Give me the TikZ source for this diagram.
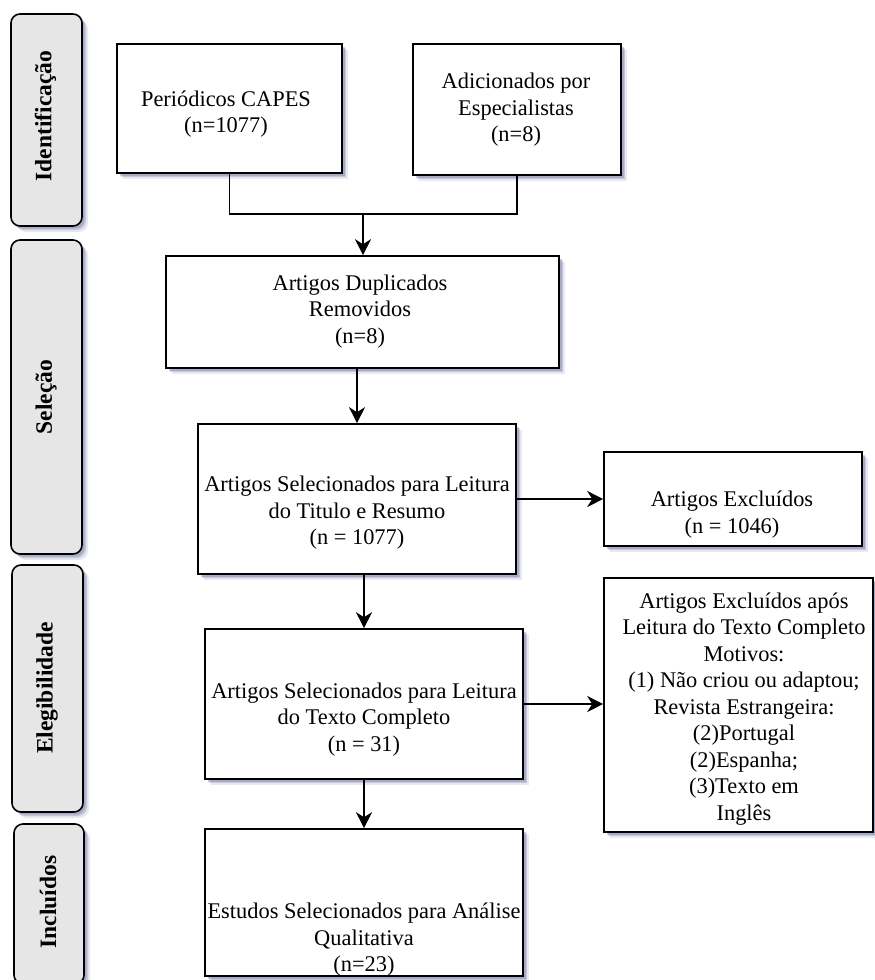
\documentclass[tikz,border=0pt]{standalone}
\usepackage{fontspec}
\setmainfont{Liberation Serif}
\usetikzlibrary{arrows.meta,shadows}
\definecolor{shc}{RGB}{100,105,155}
\definecolor{phasefill}{RGB}{230,230,230}
\begin{document}
\begin{tikzpicture}[x=1pt,y=-1pt,
  shad/.style={general shadow={fill=shc,opacity=0.15,shadow xshift=6pt,shadow yshift=-6pt},
               general shadow={fill=shc,opacity=0.25,shadow xshift=4pt,shadow yshift=-4pt},
               general shadow={fill=shc,opacity=0.3,shadow xshift=2.5pt,shadow yshift=-2.5pt}},
  box/.style={draw=black,line width=1.6pt,fill=white,inner sep=0pt,shad},
  phase/.style={draw=black,line width=1.6pt,fill=phasefill,rounded corners=9pt,inner sep=0pt,shad},
  txt/.style={inner sep=0pt,align=center,font=\fontsize{22.4}{26.5}\selectfont},
  ptxt/.style={inner sep=0pt,rotate=90,font=\fontsize{23.5}{28}\selectfont\bfseries},
  conn/.style={line width=1.6pt,draw=black},
  arr/.style={conn,-{Stealth[length=16pt,width=16pt,inset=5pt]}}]
\useasboundingbox (0,0) rectangle (875,980);
\fill[white] (0,0) rectangle (875,980);
\clip (0,0) rectangle (875,980);
% phase labels
\node[phase,minimum width=71pt,minimum height=212pt] (ph1) at (46.5,120) {};
\node[ptxt] (ph1t) at (45.5,116) {Identificação};
\node[phase,minimum width=71pt,minimum height=314pt] (ph2) at (46.5,397) {};
\node[ptxt] (ph2t) at (46,397) {Seleção};
\node[phase,minimum width=71pt,minimum height=247pt] (ph3) at (47.5,688.5) {};
\node[ptxt] (ph3t) at (47,688) {Elegibilidade};
\node[phase,minimum width=70pt,minimum height=160pt] (ph4) at (49,904) {};
\node[ptxt] (ph4t) at (48,902) {Incluídos};
% boxes
\node[box,minimum width=225pt,minimum height=129pt] (per) at (229.5,108.5) {};
\node[txt] (pert) at (226,114) {Periódicos CAPES\\(n=1077)};
\node[box,minimum width=208pt,minimum height=131pt] (adi) at (517,109.5) {};
\node[txt] (adit) at (516,110) {Adicionados por\\Especialistas\\(n=8)};
\node[box,minimum width=393pt,minimum height=112pt] (dup) at (362.5,312) {};
\node[txt] (dupt) at (360,311.5) {Artigos Duplicados\\Removidos\\(n=8)};
\node[box,minimum width=318pt,minimum height=150pt] (tit) at (357,499) {};
\node[txt] (titt) at (357,513) {Artigos Selecionados para Leitura\\do Titulo e Resumo\\(n = 1077)};
\node[box,minimum width=258pt,minimum height=94pt] (exc) at (733,499) {};
\node[txt] (exct) at (732,514.5) {Artigos Excluídos\\(n = 1046)};
\node[box,minimum width=318pt,minimum height=150pt] (tex) at (364,704) {};
\node[txt] (text) at (364,719.5) {Artigos Selecionados para Leitura\\do Texto Completo\\(n = 31)};
\node[box,minimum width=269pt,minimum height=254pt] (exb) at (738.5,705) {};
\node[txt] (exbt) at (744,709) {Artigos Excluídos após\\Leitura do Texto Completo\\Motivos:\\(1) Não criou ou adaptou;\\Revista Estrangeira:\\(2)Portugal\\(2)Espanha;\\(3)Texto em\\Inglês};
\node[box,minimum width=318pt,minimum height=147pt] (est) at (364,902.5) {};
\node[txt] (estt) at (364,940) {Estudos Selecionados para Análise\\Qualitativa\\(n=23)};
% connectors
\coordinate (j) at (363,214);
\draw[conn] (per.south) |- (j) -| (adi.south);
\draw[arr] (j) -- (j |- dup.north);
\draw[arr] (tit.north |- dup.south) -- (tit.north);
\draw[arr] (tit.east) -- (exc.west);
\draw[arr] (tex.north |- tit.south) -- (tex.north);
\draw[arr] (tex.east) -- (tex.east -| exb.west);
\draw[arr] (tex.south) -- (est.north);
\end{tikzpicture}
\end{document}
